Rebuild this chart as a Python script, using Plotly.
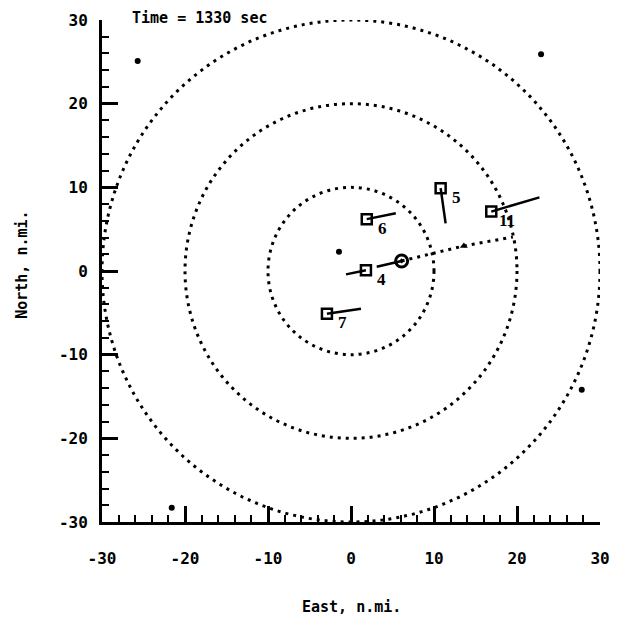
import numpy as np
import plotly.graph_objects as go

# ---- data (n.mi.) ----
ring_radii = [10, 20, 30]

other_x = [-25.7, 22.9, 27.8, -21.6, -1.45]
other_y = [25.1, 25.9, -14.2, -28.3, 2.3]

ac_ids = ["4", "5", "6", "7", "11"]
ac_x = [1.8, 10.8, 1.9, -2.9, 16.9]
ac_y = [0.1, 9.9, 6.2, -5.1, 7.1]
trail_x = [-0.6, 11.4, 5.4, 1.2, 22.7]
trail_y = [-0.4, 5.7, 6.9, -4.5, 8.8]

own_x = [6.1]
own_y = [1.2]
own_trail_x = [3.1]
own_trail_y = [0.5]

path_x = [6.1, 13.6, 19.5]
path_y = [1.2, 3.0, 4.06]
wp_x = [13.6]
wp_y = [3.0]

tick_vals = [-30, -20, -10, 0, 10, 20, 30]
tick_text = ["-30", "-20", "-10", "0", "10", "20", "30"]

FONT = "DejaVu Sans Mono"
DOT = "3px,5px"

fig = go.Figure()

# range rings
for r in ring_radii:
    fig.add_shape(type="circle", xref="x", yref="y", x0=-r, y0=-r, x1=r, y1=r,
                  line=dict(color="black", width=3, dash=DOT), layer="below")

# dotted path from own aircraft
fig.add_trace(go.Scatter(x=path_x, y=path_y, mode="lines",
                         line=dict(color="black", width=3, dash=DOT),
                         hoverinfo="skip", showlegend=False))
fig.add_trace(go.Scatter(x=wp_x, y=wp_y, mode="markers",
                         marker=dict(symbol="triangle-up", size=7, color="black"),
                         showlegend=False))

# trails
for i in range(len(ac_ids)):
    fig.add_trace(go.Scatter(x=[ac_x[i], trail_x[i]], y=[ac_y[i], trail_y[i]], mode="lines",
                             line=dict(color="black", width=2.5), showlegend=False))
fig.add_trace(go.Scatter(x=[own_trail_x[0], own_x[0]], y=[own_trail_y[0], own_y[0]], mode="lines",
                         line=dict(color="black", width=2.5), showlegend=False))

# other dots
fig.add_trace(go.Scatter(x=other_x, y=other_y, mode="markers",
                         marker=dict(symbol="circle", size=6, color="black"),
                         cliponaxis=False, showlegend=False))

# aircraft squares
fig.add_trace(go.Scatter(x=ac_x, y=ac_y, mode="markers",
                         marker=dict(symbol="square-open", size=10, color="black",
                                     line=dict(width=2.5, color="black")),
                         showlegend=False))

# own aircraft circle
fig.add_trace(go.Scatter(x=own_x, y=own_y, mode="markers",
                         marker=dict(symbol="circle-open-dot", size=12, color="black",
                                     line=dict(width=3, color="black")),
                         showlegend=False))

# aircraft labels
label_annotations = [
    dict(text=t, x=x, y=y, xref="x", yref="y", xshift=16, yshift=-9,
         showarrow=False, xanchor="center", yanchor="middle",
         font=dict(family="Liberation Serif", size=17, color="black", weight="bold"))
    for t, x, y in zip(ac_ids, ac_x, ac_y)
]

axis_common = dict(
    range=[-30, 30], tickvals=tick_vals, ticktext=tick_text, showgrid=False, zeroline=False,
    showline=True, linecolor="black", linewidth=3, mirror=False, automargin=False,
    ticks="inside", ticklen=16, tickwidth=2.5, tickcolor="black",
    minor=dict(dtick=2, ticks="inside", ticklen=7, tickwidth=2, tickcolor="black", showgrid=False),
    tickfont=dict(family=FONT, size=16, color="black", weight="bold"),
)

fig.update_layout(
    width=618, height=610,
    margin=dict(l=94, r=26, t=12, b=96),
    plot_bgcolor="white", paper_bgcolor="white",
    xaxis=dict(**axis_common, ticklabelstandoff=20),
    yaxis=dict(**axis_common, ticklabelstandoff=8),
    annotations=label_annotations + [
        dict(text="Time = 1330 sec", xref="paper", yref="paper", x=0.056, y=1.004,
             xanchor="left", yanchor="middle", showarrow=False,
             font=dict(family=FONT, size=15, color="black", weight="bold")),
        dict(text="North, n.mi.", xref="paper", yref="paper", x=-0.161, y=0.512,
             textangle=-90, xanchor="center", yanchor="middle", showarrow=False,
             font=dict(family=FONT, size=15, color="black", weight="bold")),
        dict(text="East, n.mi.", xref="paper", yref="paper", x=0.502, y=-0.169,
             xanchor="center", yanchor="middle", showarrow=False,
             font=dict(family=FONT, size=15, color="black", weight="bold")),
    ],
)

fig.write_html("out.html")
